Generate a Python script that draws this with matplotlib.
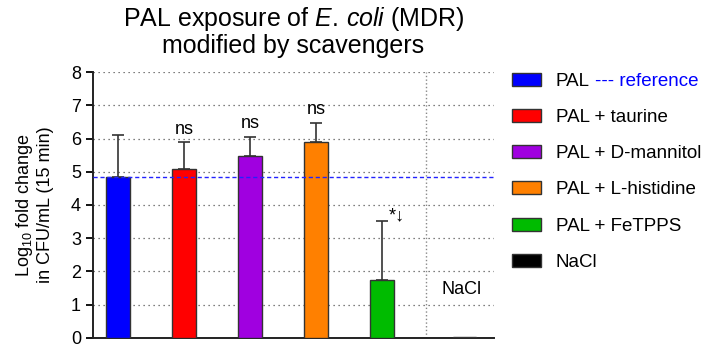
import numpy as np
import matplotlib
matplotlib.use("Agg")
import matplotlib.pyplot as plt
from matplotlib.patches import Patch

plt.rcParams['font.family'] = ['Liberation Sans', 'DejaVu Sans']
plt.rcParams['mathtext.fontset'] = 'custom'
plt.rcParams['mathtext.rm'] = 'Liberation Sans'
plt.rcParams['mathtext.it'] = 'Liberation Sans:italic'

# ── data ──────────────────────────────────────────────
labels = ["PAL", "PAL + taurine", "PAL + D-mannitol", "PAL + L-histidine",
          "PAL + FeTPPS", "NaCl"]
means = [4.85, 5.07, 5.48, 5.90, 1.75, 0.02]
err_up = [1.27, 0.81, 0.57, 0.57, 1.77, 0.0]
annot = ["", "ns", "ns", "ns", "*\u2193", ""]
colors = ["#0000ff", "#ff0000", "#a000e0", "#ff8000", "#00bb00", "#000000"]
xpos = [0, 1, 2, 3, 4, 5.25]
ref_value = 4.85

fig = plt.figure(figsize=(7.09, 3.48), dpi=100)
ax = fig.add_axes([0.131, 0.029, 0.566, 0.764])

ax.bar(xpos, means, width=0.35, color=colors, edgecolor="#333333", linewidth=1.0,
       zorder=3)
ax.errorbar(xpos[:5], means[:5], yerr=[np.zeros(5), err_up[:5]], fmt="none",
            ecolor="#333333", elinewidth=1.2, capsize=4.5, capthick=1.2, zorder=2)

for x, m, e, a in zip(xpos, means, err_up, annot):
    if a == "ns":
        ax.text(x, m + e + 0.15, a, ha="center", va="bottom", fontsize=13)
    elif a:
        ax.text(x + 0.22, m + e - 0.1, a, ha="center", va="bottom", fontsize=13)
ax.text(xpos[5] - 0.05, 1.45, "NaCl", ha="center", va="center", fontsize=13)

ax.axhline(ref_value, color="#2222ff", ls=(0, (3, 2)), lw=1.0, zorder=4)
ax.axvline(4.67, color="#888888", ls=":", lw=1.0, zorder=1)

ax.set_ylim(0, 8)
ax.set_xlim(-0.38, 5.7)
ax.set_yticks(range(0, 9))
ax.set_xticks([])
ax.yaxis.grid(True, color="#555555", ls=(0, (1, 3)), lw=0.9, zorder=0)
ax.tick_params(axis="y", labelsize=13, width=1.3, length=5, direction="out")
for s in ["top", "right"]:
    ax.spines[s].set_visible(False)
for s in ["left", "bottom"]:
    ax.spines[s].set_linewidth(1.4)
    ax.spines[s].set_color("#222222")

ax.set_ylabel("Log$_{10}$ fold change\nin CFU/mL (15 min)", fontsize=13, labelpad=12)
ax.set_title("PAL exposure of $\\mathit{E.\\,coli}$ (MDR)\nmodified by scavengers",
             fontsize=18, pad=14, linespacing=1.05)

handles = [Patch(facecolor=c, edgecolor="#333333", linewidth=1.0) for c in colors]
leg = fig.legend(handles, labels, loc="upper left", bbox_to_anchor=(0.699, 0.84),
                 frameon=False, fontsize=13.5, handlelength=1.5, handleheight=0.7,
                 labelspacing=1.02, handletextpad=0.8)
fig.canvas.draw()
bb = leg.get_texts()[0].get_window_extent()
fig.text(bb.x1 / fig.bbox.width + 0.008, bb.y0 / fig.bbox.height, "--- reference",
         color="#0000ff", fontsize=13.5, ha="left", va="bottom")

fig.savefig("out.png", dpi=100)
